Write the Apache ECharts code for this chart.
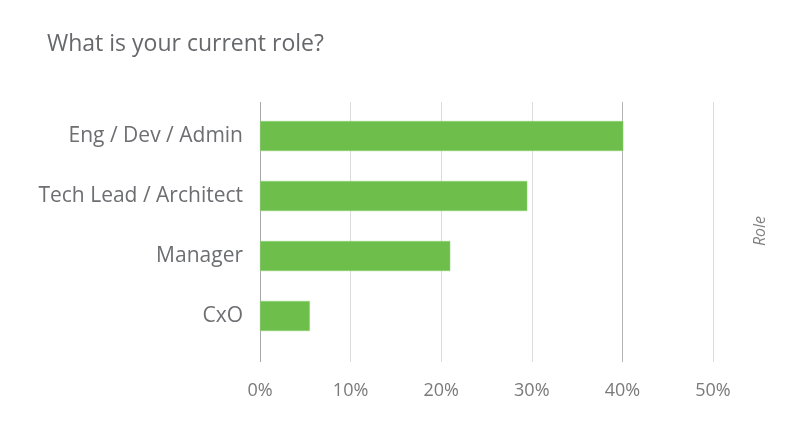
<!DOCTYPE html>
<html><head><meta charset="utf-8">
<script src="https://cdn.jsdelivr.net/npm/echarts@6/dist/echarts.min.js"></script>
<style>html,body{margin:0;padding:0;background:#fff}#c{width:800px;height:428px}</style>
</head><body><div id="c"></div>
<script>
const categories = ['Eng / Dev / Admin', 'Tech Lead / Architect', 'Manager', 'CxO'];
const values = [40.1, 29.5, 21.0, 5.5];
const tickValues = [0, 10, 20, 30, 40, 50];
const titleText = 'What is your current role?';
const sideLabel = 'Role';

const FONT = '"Open Sans", sans-serif';
const chart = echarts.init(document.getElementById('c'), null, {renderer: 'canvas'});
chart.setOption({
  backgroundColor: '#fff',
  animation: false,
  title: {
    text: titleText, left: 42, top: 28,
    textStyle: {fontFamily: FONT, fontSize: 23, fontWeight: 'normal', color: '#67686b'}
  },
  graphic: [{
    type: 'text', x: 760, y: 231, rotation: Math.PI / 2,
    style: {text: sideLabel, fontFamily: FONT, fontSize: 16, fontStyle: 'italic', fill: '#808080', align: 'center', verticalAlign: 'middle'}
  }],
  grid: [
    {left: 260, right: 87, top: 102, bottom: 66},
    {left: 260, right: 87, top: 106, bottom: 82}
  ],
  xAxis: [
    {type: 'value', gridIndex: 0, min: tickValues[0], max: tickValues[tickValues.length - 1], interval: 10,
     axisLine: {show: false}, axisTick: {show: false},
     axisLabel: {formatter: '{value}%', fontFamily: FONT, fontSize: 18, color: '#7a7a7a', margin: 20},
     splitLine: {show: true, lineStyle: {color: ['#a8a8a8', '#dcdcdc', '#dcdcdc', '#dcdcdc', '#b4b4b4', '#dcdcdc'], width: 1}}},
    {type: 'value', gridIndex: 1, min: 0, max: 50, show: false, splitLine: {show: false}}
  ],
  yAxis: [
    {type: 'category', gridIndex: 0, data: categories, show: false},
    {type: 'category', gridIndex: 1, data: categories, inverse: true,
     axisLine: {show: false}, axisTick: {show: false},
     axisLabel: {fontFamily: FONT, fontSize: 21, color: '#6d6e71', margin: 17},
     splitLine: {show: false}}
  ],
  series: [{
    type: 'bar', xAxisIndex: 1, yAxisIndex: 1, data: values,
    barWidth: 30,
    itemStyle: {color: '#6dbe4b', borderColor: '#8ed275', borderWidth: 0.5}
  }]
});
</script></body></html>
